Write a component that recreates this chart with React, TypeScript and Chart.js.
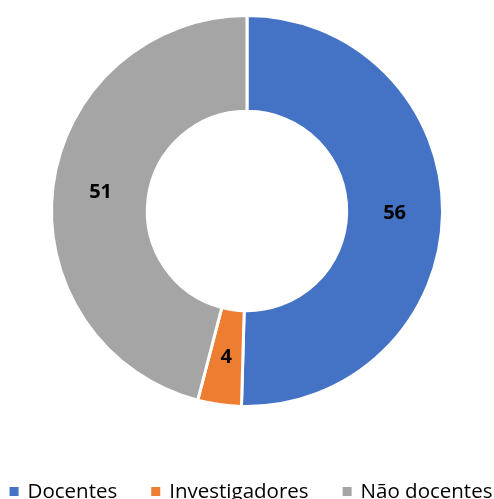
import React, { useEffect, useRef } from "react";
import { Chart, registerables } from "chart.js";

Chart.register(...registerables);

const categories = ["Docentes", "Investigadores", "Não docentes"];
const values = [56, 4, 51];
const colors = ["#4472C4", "#ED7D31", "#A5A5A5"];

const valueLabels = {
  id: "valueLabels",
  afterDatasetsDraw(chart: any) {
    const ctx = chart.ctx;
    const meta = chart.getDatasetMeta(0);
    ctx.save();
    ctx.font = "bold 20px 'Open Sans', sans-serif";
    ctx.fillStyle = "#000";
    ctx.textAlign = "center";
    ctx.textBaseline = "middle";
    meta.data.forEach((arc: any, i: number) => {
      const p = arc.tooltipPosition();
      ctx.fillText(String(values[i]), p.x, p.y);
    });
    ctx.restore();
  },
};

const bottomLegend = {
  id: "bottomLegend",
  afterDraw(chart: any) {
    const ctx = chart.ctx;
    ctx.save();
    ctx.font = "20.5px 'Open Sans', sans-serif";
    const box = 9;
    const gapBoxText = 9;
    const gapItems = 34;
    const widths = categories.map((c) => ctx.measureText(c).width);
    const total =
      widths.reduce((a, b) => a + b, 0) + categories.length * (box + gapBoxText) + gapItems * (categories.length - 1);
    let x = 251 - total / 2;
    const baseline = 498;
    categories.forEach((c, i) => {
      ctx.fillStyle = colors[i];
      ctx.fillRect(x, baseline - 11, box, box);
      x += box + gapBoxText;
      ctx.fillStyle = "#000";
      ctx.textBaseline = "alphabetic";
      ctx.textAlign = "left";
      ctx.fillText(c, x, baseline);
      x += widths[i] + gapItems;
    });
    ctx.restore();
  },
};

export default function App() {
  const ref = useRef<HTMLCanvasElement>(null);
  useEffect(() => {
    const chart = new Chart(ref.current!, {
      type: "doughnut",
      data: {
        labels: categories,
        datasets: [
          {
            data: values,
            backgroundColor: colors,
            borderColor: "#ffffff",
            borderWidth: 3,
          },
        ],
      },
      options: {
        responsive: false,
        animation: false,
        cutout: "51%",
        layout: { padding: { top: 14, bottom: 91, left: 0, right: 0 } },
        plugins: {
          tooltip: { enabled: false },
          legend: { display: false },
        },
      },
      plugins: [valueLabels, bottomLegend],
    });
    return () => chart.destroy();
  }, []);
  return (
    <div style={{ position: "absolute", left: 0, top: 0, width: 494, height: 499, overflow: "hidden" }}>
      <canvas ref={ref} width={494} height={499} />
    </div>
  );
}
